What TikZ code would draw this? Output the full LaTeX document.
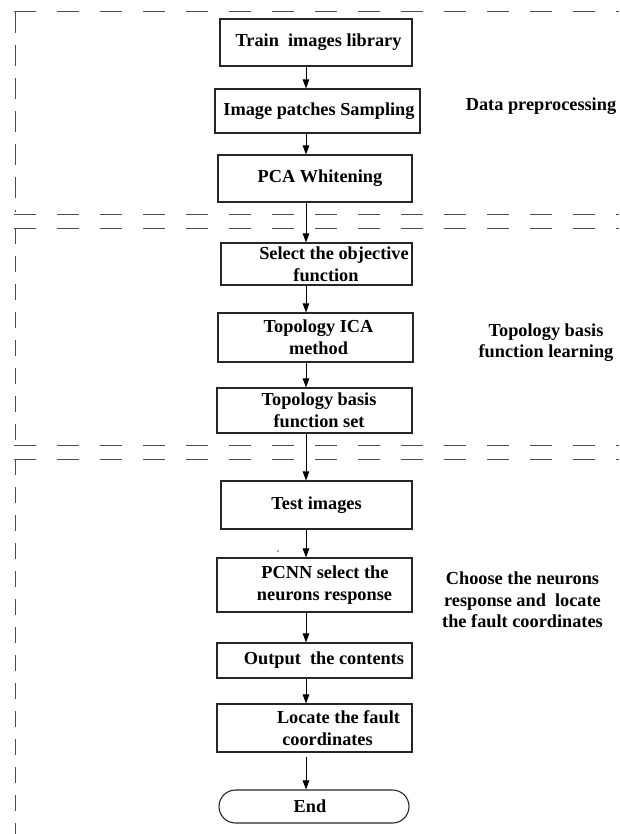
\documentclass[tikz,border=0pt]{standalone}
\usepackage{fontspec}
\setmainfont{Liberation Serif}
\usetikzlibrary{arrows.meta}
\newcommand{\bigfs}{\fontsize{18.3}{22}\selectfont\bfseries}
\newcommand{\tsh}[1]{\hspace*{#1pt}}
\begin{document}
\begin{tikzpicture}[x=1pt,y=-1pt,
  box/.style={draw=black!85,line width=1.1pt,inner sep=0pt,align=center,font=\bigfs},
  lab/.style={inner sep=0pt,align=center,font=\fontsize{18.3}{21.3}\selectfont\bfseries},
  hdash/.style={draw=black!70,line width=1pt,dash pattern=on 21.5pt off 21.5pt},
  vdash/.style={draw=black!70,line width=1pt,dash pattern=on 16pt off 12pt},
  vdashA/.style={draw=black!70,line width=1pt,dash pattern=on 21pt off 12pt},
  arr/.style={draw=black,line width=1pt,-{Triangle[length=9pt,width=6.5pt]}}]
\useasboundingbox (0,0) rectangle (619,834);

% section frames
\draw[hdash] (14,12) -- (619,12);
\draw[vdashA] (15,12) -- (15,212);
\draw[hdash] (14,215) -- (619,215);
\draw[hdash] (14,228) -- (619,228);
\draw[vdash] (15,228) -- (15,442);
\draw[hdash] (14,445) -- (619,445);
\draw[hdash] (14,459) -- (619,459);
\draw[vdash] (15,459) -- (15,834);

% boxes
\node[box,minimum width=192pt,minimum height=47pt] (b1) at (316,42.5) {\tsh{5}Train~ images library};
\node[box,minimum width=205pt,minimum height=44pt] (b2) at (317.5,111) {\tsh{3}Image patches Sampling};
\node[box,minimum width=194pt,minimum height=47pt] (b3) at (315,178.5) {\tsh{10}PCA Whitening};
\node[box,minimum width=191pt,minimum height=42pt] (b4) at (316.5,264) {\tsh{35}Select the objective\\\tsh{19}function};
\node[box,minimum width=195pt,minimum height=49pt] (b5) at (315.5,337.5) {\tsh{6}Topology ICA\\\tsh{6}method};
\node[box,minimum width=195pt,minimum height=45pt] (b6) at (314.5,410.5) {\tsh{9}Topology basis\\\tsh{9}function set};
\node[box,minimum width=191pt,minimum height=48pt] (b7) at (316.5,505) {Test images};
\node[box,minimum width=195pt,minimum height=54pt] (b8) at (314.5,585) {\tsh{21}PCNN select the\\\tsh{20}neurons response};
\node[box,minimum width=195pt,minimum height=35pt] (b9) at (314.5,660.5) {\tsh{19}Output~ the contents};
\node[box,minimum width=195pt,minimum height=48pt] (b10) at (314.5,728) {\tsh{48}Locate the fault\\\tsh{26}coordinates};
\node[box,minimum width=190pt,minimum height=33pt,rounded corners=16.5pt] (bend) at (314,806.5) {End\tsh{8}};

% side labels
\node[lab] (l1) at (541,106) {Data preprocessing};
\node[lab] (l2) at (546,343) {Topology basis\\function learning};
\node[lab] (l3) at (522.5,600) {Choose the neurons\\response and~ locate\\the fault coordinates};

% small speck
\fill[black!70] (278,551) circle (0.8pt);

% arrows
\coordinate (ax) at (306,0);
\draw[arr] (b1.south -| ax) -- (b2.north -| ax);
\draw[arr] (b2.south -| ax) -- (b3.north -| ax);
\draw[arr] (b3.south -| ax) -- (b4.north -| ax);
\draw[arr] (b4.south -| ax) -- (b5.north -| ax);
\draw[arr] (b5.south -| ax) -- (b6.north -| ax);
\draw[arr] (b6.south -| ax) -- (b7.north -| ax);
\draw[arr] (b7.south -| ax) -- (b8.north -| ax);
\draw[arr] (b8.south -| ax) -- (b9.north -| ax);
\draw[arr] (b9.south -| ax) -- (b10.north -| ax);
\draw[arr] ([yshift=-4pt]b10.south -| ax) -- (bend.north -| ax);
\end{tikzpicture}
\end{document}
